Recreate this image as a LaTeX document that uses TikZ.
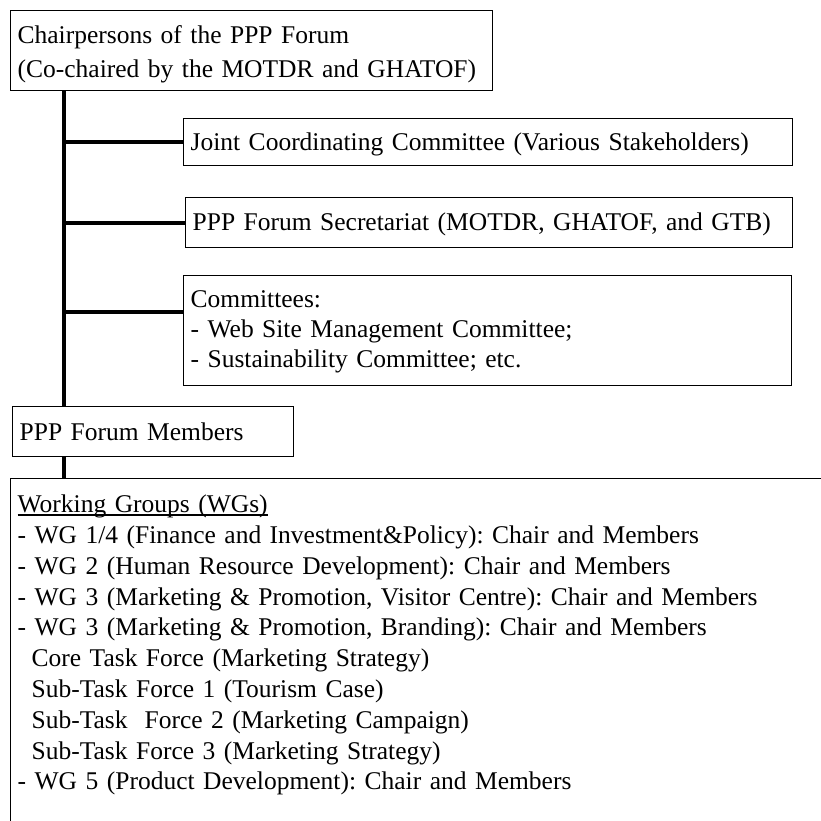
\documentclass[tikz,border=0pt]{standalone}
\usepackage{fontspec}
\setmainfont{Liberation Serif}
\frenchspacing
\usetikzlibrary{calc, positioning}
\newcommand{\wgunderline}[1]{\setbox0=\hbox{#1}\rlap{\rule[-3pt]{\wd0}{1.2pt}}\box0}
\tikzset{
    orgbox/.style={
        draw, line width=1.3pt, anchor=north west, align=left,
        inner xsep=7pt, inner ysep=0pt,
        font=\fontsize{25.5}{30.8}\selectfont
    },
    trunk/.style={line width=4.5pt},
    branch/.style={line width=4pt}
}

\begin{document}
\begin{tikzpicture}[x=1pt, y=-1pt]
    \useasboundingbox (0,0) rectangle (821,821);
    \clip (0,0) rectangle (821,821);
    \def \taskindent {\hspace*{14pt}}
    \node[orgbox, text width=468pt, text height=33pt, text depth=47pt, font=\fontsize{25.5}{34}\selectfont] (chair) at (10,10)
        {Chairpersons of the PPP Forum\\(Co-chaired by the MOTDR and GHATOF)};
    \node[orgbox, text width=595pt, text height=32pt, text depth=15pt] (jcc) at (183,118)
        {Joint Coordinating Committee (Various Stakeholders)};
    \node[orgbox, text width=593pt, text height=33pt, text depth=17pt] (sec) at (185,197)
        {PPP Forum Secretariat (MOTDR, GHATOF, and GTB)};
    \node[orgbox, text width=594pt, text height=32pt, text depth=78pt, font=\fontsize{25.5}{29.7}\selectfont] (com) at (183,275)
        {Committees:\\- Web Site Management Committee;\\- Sustainability Committee; etc.};
    \node[orgbox, text width=267pt, text height=34pt, text depth=16pt] (mem) at (12,406)
        {PPP Forum Members};
    \node[orgbox, text width=900pt, text height=34pt, text depth=420pt] (wg) at (10,478)
        {\wgunderline{Working Groups (WGs)}\\
         - WG 1/4 (Finance and Investment\&Policy): Chair and Members\\
         - WG 2 (Human Resource Development): Chair and Members\\
         - WG 3 (Marketing \& Promotion, Visitor Centre): Chair and Members\\
         - WG 3 (Marketing \& Promotion, Branding): Chair and Members\\
         \taskindent Core Task Force (Marketing Strategy)\\
         \taskindent Sub-Task Force 1 (Tourism Case)\\
         \taskindent Sub-Task~ Force 2 (Marketing Campaign)\\
         \taskindent Sub-Task Force 3 (Marketing Strategy)\\
         - WG 5 (Product Development): Chair and Members};
    % spine and branches
    \coordinate (spine) at (64,0);
    \coordinate (comjoin) at ($(com.north west)+(0,37)$);
    \draw[trunk] (chair.south -| spine) -- (mem.north -| spine);
    \draw[trunk] (mem.south -| spine) -- (wg.north -| spine);
    \draw[branch] (spine |- jcc.west) -- (jcc.west);
    \draw[branch] (spine |- sec.west) -- (sec.west);
    \draw[branch] (spine |- comjoin) -- (comjoin);
\end{tikzpicture}
\end{document}
